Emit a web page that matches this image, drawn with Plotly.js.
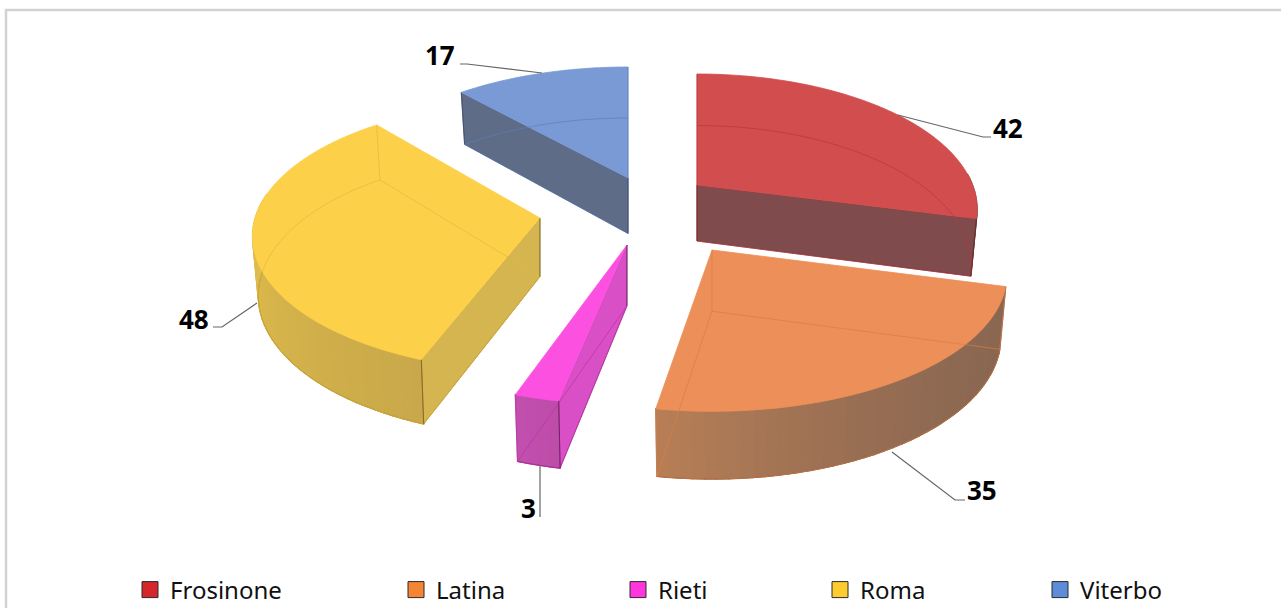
<!DOCTYPE html>
<html><head><meta charset="utf-8">
<script src="https://cdn.plot.ly/plotly-3.0.1.min.js"></script>
<style>html,body{margin:0;padding:0;background:#fff;overflow:hidden}</style>
</head><body><div id="chart" style="width:1281px;height:608px"></div>
<script>
// ---- data ----
const categories = ['Frosinone','Latina','Rieti','Roma','Viterbo'];
const values = [42,35,3,48,17];
// ---- styles ----
const topColors   = ['#D14D4E','#EC8F59','#FB50E0','#FDD04A','#7A9AD5'];
const faceColors  = ['#7F4B4C','#8A6752','#D94FC5','#D4B54F','#5F6C87'];
const wallStart   = ['#7F4B4C',[138,103,82],[190,76,168],[200,168,74],'#5F6C87'];
const wallEnd     = ['#7F4B4C',[184,127,86],[192,79,174],[228,192,76],'#5F6C87'];
const wallCurve   = [1,2.2,1,1,1];
const hiddenLine  = ['#B23A40','#D97C45','#C22EAA','#E2B83E','#5C7DBB'];
const edgeLine    = ['#6A2A2E','#6B4A32','#6A1E5C','#7A6420','#3A4560'];
const legendColors= ['#D5262C','#F58534','#FF36DE','#FFCC30','#5E8DD8'];
// ---- layout of the exploded pie on the page (pixels) ----
const apexX = [697,712,627,540,628];
const apexY = [185,250,245,218,178];
const sliceScaleX = [0.95,1,1,0.975,0.97];
const sliceScaleY = [1,1.01,1,1,1];
const sliceShiftY = [0,0,0,-6,0];
const startTweak  = [0,1,0,1.8,0];
const endTweak    = [0,-2,0,1.2,0];
const drawOrder = [4,0,3,2,1];
const radialFace = ['end','none','start','start','start'];
const R = 290, B = 131, P = 0.18;
const legendX = [130,396,618,820,1040], legendY = 590;
const labelPos = [[1008,128],[982,490],[528,508],[194,319],[440,55]];
const leaders = [
  [[898,115],[983,137],[991,137]],
  [[892,452],[955,500],[965,500]],
  [[540,465],[540,517]],
  [[257,303],[222,327],[213,327]],
  [[542,73],[467,64],[460,64]]
];
const labelFont = {family:'"Noto Sans","Open Sans",sans-serif',size:26,color:'#000',weight:700};
const legendFont = {family:'"Noto Sans","Open Sans",sans-serif',size:24,color:'#111'};

const total = values.reduce((a,b)=>a+b,0);
const D2R = Math.PI/180;
let acc = 0;
const starts = [], ends = [];
values.forEach((v,i)=>{starts.push(acc+startTweak[i]); acc += v/total*360; ends.push(acc+endTweak[i]);});

function height(i){ return 58+(apexY[i]-210)*0.08; }
function pt(i,deg,bottom){
  const u=Math.sin(deg*D2R), v=Math.cos(deg*D2R), w=1+P*v;
  const x=R*sliceScaleX[i]*u/w, y=-B*sliceScaleY[i]*v/w+sliceShiftY[i];
  if(!bottom) return [apexX[i]+x, apexY[i]+y];
  return [apexX[i]+0.98*x, apexY[i]+height(i)+1.04*y];
}
function apex(i,bottom){ return bottom?[apexX[i],apexY[i]+height(i)]:[apexX[i],apexY[i]]; }
function arc(i,a,b,bottom){
  const out=[], n=Math.max(2,Math.ceil(Math.abs(b-a)));
  for(let k=0;k<=n;k++) out.push(pt(i,a+(b-a)*k/n,bottom));
  return out;
}
function poly(pts,color,lineColor,lw,fill){
  const xs=pts.map(p=>p[0]), ys=pts.map(p=>p[1]);
  const t={x:xs,y:ys,mode:'lines',hoverinfo:'skip',showlegend:false,
    line:{color:lineColor||color,width:lw===undefined?1:lw,simplify:false}};
  if(fill!==false){t.fill='toself';t.fillcolor=color;t.x=xs.concat(xs[0]);t.y=ys.concat(ys[0]);}
  return t;
}
function mix(a,b,t){
  if(typeof a==='string') return a;
  return 'rgb('+a.map((c,j)=>Math.round(c+(b[j]-c)*t)).join(',')+')';
}
const traces=[];
drawOrder.forEach(i=>{
  const a=starts[i], b=ends[i];
  const d=radialFace[i]==='end'?b:(radialFace[i]==='start'?a:null);
  // curved wall, in small strips so its shade can change along the arc
  const wa=Math.max(a,85), wb=Math.min(b,278);
  if(wb>wa){
    const n=Math.ceil((wb-wa)/2);
    for(let k=0;k<n;k++){
      const p=wa+(wb-wa)*k/n, q=wa+(wb-wa)*(k+1)/n;
      const c=mix(wallStart[i],wallEnd[i],Math.pow((k+.5)/n,wallCurve[i]));
      traces.push(poly([pt(i,p,false),pt(i,q,false),pt(i,q,true),pt(i,p,true)],c,c,1.4));
    }
    traces.push(poly(arc(i,wa,wb,true),'',edgeLine[i],0.6,false));
  }
  // flat cut face that faces the viewer
  if(d!==null){
    traces.push(poly([apex(i,false),pt(i,d,false),pt(i,d,true),apex(i,true)],faceColors[i],edgeLine[i],0.6));
  }
  // top face
  traces.push(poly([apex(i,false)].concat(arc(i,a,b,false)),topColors[i],topColors[i],0.8));
  // edges of the underside, seen through the translucent slice
  traces.push(poly([pt(i,a,true),apex(i,true),pt(i,b,true)],'',hiddenLine[i],0.7,false));
  traces.push(poly(arc(i,a,b,true),'',hiddenLine[i],0.7,false));
  traces.push(poly([apex(i,false),apex(i,true)],'',d===null?hiddenLine[i]:edgeLine[i],0.7,false));
  traces.push(poly([pt(i,a,false),pt(i,a,true)],'',d===a?edgeLine[i]:hiddenLine[i],0.7,false));
  traces.push(poly([pt(i,b,false),pt(i,b,true)],'',d===b?edgeLine[i]:hiddenLine[i],0.7,false));
});
// one legend per category so each can sit at its own place along the bottom
const legends={};
categories.forEach((c,i)=>{
  const key=i===0?'legend':'legend'+(i+1);
  traces.push({x:[null],y:[null],mode:'markers',name:c,legend:key,showlegend:true,hoverinfo:'skip',
    marker:{symbol:'square',size:16,color:legendColors[i],line:{color:'#2a2a2a',width:1}}});
  legends[key]={x:legendX[i]/1281,y:1-legendY/608,xanchor:'left',yanchor:'middle',
    orientation:'h',bgcolor:'rgba(0,0,0,0)',borderwidth:0,font:legendFont,itemclick:false,itemdoubleclick:false};
});
const shapes=[
  {type:'path',xref:'x',yref:'y',path:'M6,608 L6,10 L1281,10',line:{color:'#D2D2D2',width:2.5},layer:'below'}
];
leaders.forEach(l=>{
  shapes.push({type:'path',xref:'x',yref:'y',
    path:'M'+l.map(p=>p[0]+','+p[1]).join(' L'),line:{color:'#666',width:1.2}});
});
const annotations=categories.map((c,i)=>({
  x:labelPos[i][0],y:labelPos[i][1],xref:'x',yref:'y',text:String(values[i]),showarrow:false,
  font:labelFont,xanchor:'center',yanchor:'middle'
}));
const layout=Object.assign({
  width:1281,height:608,margin:{l:0,r:0,t:0,b:0,autoexpand:false},paper_bgcolor:'#fff',plot_bgcolor:'#fff',
  xaxis:{range:[0,1281],visible:false,fixedrange:true},
  yaxis:{range:[608,0],visible:false,fixedrange:true},
  shapes:shapes,annotations:annotations,showlegend:true
},legends);
Plotly.newPlot('chart',traces,layout,{displayModeBar:false});
</script></body></html>
